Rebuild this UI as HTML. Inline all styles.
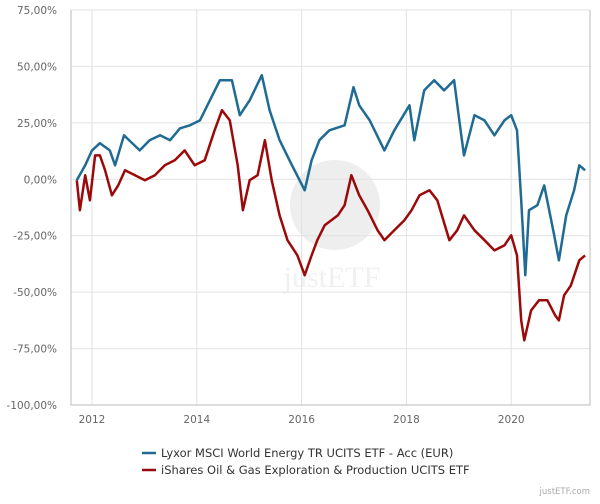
<!DOCTYPE html>
<html><head><meta charset="utf-8"><style>
body{margin:0;background:#fff;width:600px;height:500px;overflow:hidden;font-family:"DejaVu Sans","Liberation Sans",sans-serif}
</style></head><body>
<svg id="chart" width="600" height="500" viewBox="0 0 600 500" xmlns="http://www.w3.org/2000/svg">
<g>
<circle cx="335" cy="205" r="45" fill="#eeeeee"/>
<text x="332" y="287" font-family="Liberation Serif,serif" font-size="30" fill="#f0f0f0" text-anchor="middle">justETF</text>
</g>
<g id="grid"></g>
<g id="series"></g>
<g id="axes"></g>
<g font-size="11.5" fill="#333">
<g><line x1="142" y1="453" x2="156" y2="453" stroke="#1f6b93" stroke-width="2.5"/><text x="161" y="457">Lyxor MSCI World Energy TR UCITS ETF - Acc (EUR)</text></g>
<g><line x1="142" y1="470" x2="156" y2="470" stroke="#9b0a0a" stroke-width="2.5"/><text x="161" y="474">iShares Oil &amp; Gas Exploration &amp; Production UCITS ETF</text></g>
</g>
<text x="590" y="494" font-size="8.5" fill="#aaa" text-anchor="end">justETF.com</text>
</svg>
<script>
const yTicks=[75,50,25,0,-25,-50,-75,-100];
const yTickLabels=["75,00%","50,00%","25,00%","0,00%","-25,00%","-50,00%","-75,00%","-100,00%"];
const xTicks=[2012,2014,2016,2018,2020];
const blueDates=[2011.71,2011.87,2012.0,2012.15,2012.34,2012.44,2012.61,2012.91,2013.1,2013.3,2013.49,2013.68,2013.87,2014.06,2014.25,2014.44,2014.67,2014.82,2015.01,2015.24,2015.39,2015.58,2015.77,2016.06,2016.19,2016.34,2016.53,2016.82,2016.99,2017.1,2017.3,2017.58,2017.77,2018.06,2018.15,2018.34,2018.53,2018.72,2018.91,2019.01,2019.1,2019.3,2019.49,2019.68,2019.87,2020.0,2020.11,2020.19,2020.27,2020.34,2020.5,2020.63,2020.82,2020.91,2021.05,2021.2,2021.3,2021.41];
const blueValues=[-0.4,6.2,12.8,16,12.8,6.2,19.5,12.8,17.3,19.5,17.3,22.6,23.9,26.1,35,43.9,43.9,28.4,35,46.1,30.6,17.3,8.4,-4.9,8.4,17.3,21.7,23.9,40.8,32.8,26.1,12.8,21.7,32.8,17.3,39.4,43.9,39.4,43.9,26.1,10.6,28.4,26.1,19.5,26.1,28.4,21.7,-9.3,-42.5,-13.7,-11.5,-2.7,-24.8,-35.9,-16,-4.9,6.2,4];
const redDates=[2011.71,2011.77,2011.87,2011.96,2012.06,2012.15,2012.25,2012.38,2012.5,2012.63,2012.82,2013.01,2013.2,2013.39,2013.58,2013.77,2013.96,2014.15,2014.34,2014.48,2014.63,2014.78,2014.88,2015.01,2015.16,2015.3,2015.43,2015.58,2015.73,2015.92,2016.06,2016.19,2016.3,2016.44,2016.69,2016.82,2016.95,2017.1,2017.26,2017.45,2017.58,2017.77,2017.96,2018.1,2018.25,2018.44,2018.59,2018.82,2018.97,2019.1,2019.3,2019.49,2019.68,2019.87,2020.0,2020.11,2020.19,2020.25,2020.38,2020.53,2020.69,2020.84,2020.91,2021.01,2021.14,2021.3,2021.41];
const redValues=[-0.4,-13.7,1.8,-9.3,10.6,10.6,4,-7.1,-2.7,4,1.8,-0.4,1.8,6.2,8.4,12.8,6.2,8.4,21.7,30.6,26.1,6.2,-13.7,-0.4,1.8,17.3,-0.4,-16,-27,-33.7,-42.5,-33.7,-27,-20.4,-16,-11.5,1.8,-7.1,-13.7,-22.6,-27,-22.6,-18.2,-13.7,-7.1,-4.9,-9.3,-27,-22.6,-16,-22.6,-27,-31.5,-29.3,-24.8,-33.7,-62.5,-71.4,-58.1,-53.6,-53.6,-60.3,-62.5,-51.4,-47,-35.9,-33.7];

const L=71,R=590,T=10,B=405;
const xS=v=>92+(v-2012)*52.4;
const yS=v=>T+(75-v)/175*(B-T);
const NS="http://www.w3.org/2000/svg";
function mk(tag,attrs,parent){const e=document.createElementNS(NS,tag);for(const k in attrs)e.setAttribute(k,attrs[k]);parent.appendChild(e);return e;}
const grid=document.getElementById('grid'),axes=document.getElementById('axes'),series=document.getElementById('series');
yTicks.forEach((t,i)=>{
  const ln=mk('line',{x1:L,x2:R,y1:yS(t),y2:yS(t),stroke:'#e2e2e2','stroke-width':1},grid);
  
  
  const tx=mk('text',{x:57,y:yS(t)+4,'font-size':10.5,fill:'#666','text-anchor':'end'},axes);
  tx.textContent=yTickLabels[i];
  
  
});
xTicks.forEach(t=>{
  const ln=mk('line',{x1:xS(t),x2:xS(t),y1:T,y2:B,stroke:'#e2e2e2','stroke-width':1},grid);
  
  
  const tx=mk('text',{x:xS(t),y:B+18,'font-size':10.5,fill:'#666','text-anchor':'middle'},axes);
  tx.textContent=String(t);
  
  
});
const ax=mk('path',{d:`M${L},${T}V${B}H${R}V${T}`,fill:'none',stroke:'#bbb','stroke-width':1},axes);


function line(dates,vals,color){
  const d=dates.map((x,i)=>(i?'L':'M')+xS(x).toFixed(1)+','+yS(vals[i]).toFixed(1)).join('');
  const p=mk('path',{d:d,fill:'none',stroke:color,'stroke-width':2.5,'stroke-linejoin':'round'},series);
  
  return p;
}
const redLine=line(redDates,redValues,'#9b0a0a');

const blueLine=line(blueDates,blueValues,'#1f6b93');

</script>
</body></html>
